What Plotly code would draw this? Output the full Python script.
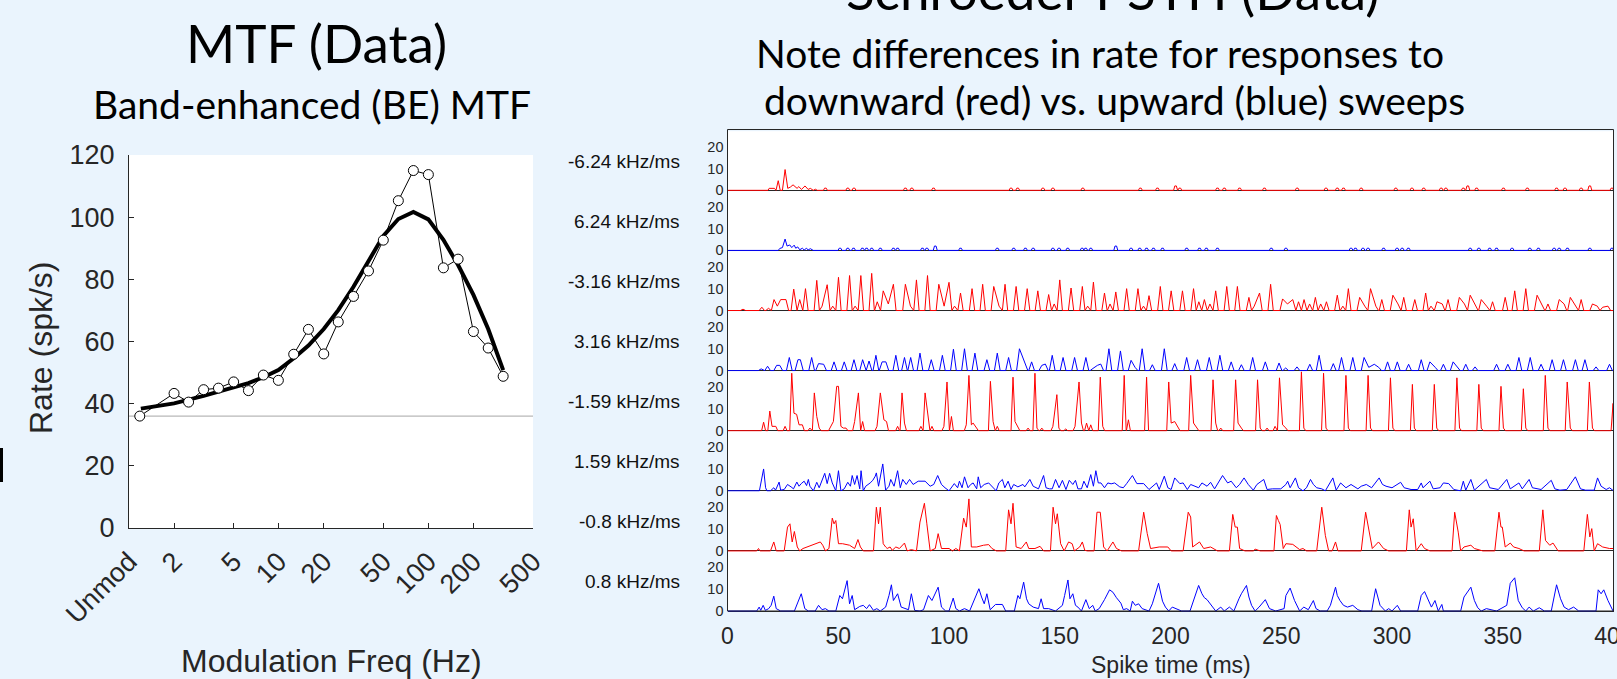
import plotly.graph_objects as go

W, H = 1617, 679
def fx(px): return px / W
def fy(py): return 1 - py / H

# ---------------- MTF data ----------------
mtf_freq_hz = [1.18, 2.0, 2.5, 3.15, 3.96, 5.0, 6.28, 7.9, 9.95, 12.6, 15.8, 20.0, 25.0, 31.6,
               39.8, 50.0, 63.0, 79.4, 100.0, 126.0, 158.0, 200.0, 251.0, 316.0]
mtf_rate = [36.0, 43.3, 40.5, 44.5, 45.0, 47.0, 44.2, 49.2, 47.5, 55.9, 63.9, 56.0, 66.3, 74.5,
            82.7, 92.6, 105.3, 115.0, 113.7, 83.7, 86.5, 63.2, 57.9, 48.8]
fit_freq_hz = [1.2, 2.0, 3.15, 5.0, 6.28, 7.9, 9.95, 12.6, 15.8, 20.0, 25.0, 31.6, 39.8, 50.0,
               63.0, 79.4, 100.0, 126.0, 158.0, 200.0, 251.0, 316.0]
fit_rate = [38.4, 40.1, 42.5, 45.3, 46.6, 48.5, 50.8, 54.6, 58.7, 64.0, 70.1, 77.6, 85.7, 94.0,
            99.4, 101.7, 99.3, 92.7, 84.6, 75.0, 64.0, 50.8]
unmod_rate = 36.0
mtf_tickvals = [1, 2, 5, 10, 20, 50, 100, 200, 500]
mtf_ticktext = ["Unmod", "2", "5", "10", "20", "50", "100", "200", "500"]
rate_ticks = [0, 20, 40, 60, 80, 100, 120]

# ---------------- PSTH data ----------------
row_labels = ["-6.24 kHz/ms", "6.24 kHz/ms", "-3.16 kHz/ms", "3.16 kHz/ms",
              "-1.59 kHz/ms", "1.59 kHz/ms", "-0.8 kHz/ms", "0.8 kHz/ms"]
row_colors = ["#ff0000", "#0000ff", "#ff0000", "#0000ff", "#ff0000", "#0000ff", "#ff0000", "#0000ff"]
time_ticks = [0, 50, 100, 150, 200, 250, 300, 350, 400]
psth_ticks = [0, 10, 20]

# row 1 (-6.24): onset response vertices + isolated single-spike bins
r1_onset = [(0, 0), (18.3, 0), (18.8, 0.9), (21.2, 0.9), (21.9, 0), (22.9, 4.4), (23.8, 0), (24.8, 0),
            (26.0, 9.5), (27.2, 0.9), (28.4, 1.5), (29.6, 2.5), (31.4, 0.9), (32.2, 1.7), (33.4, 0.4),
            (35.0, 2.0), (36.4, 0.4), (37.4, 0.9), (38.7, 0), (39.7, 0.5), (40.5, 0)]
r1_bumps = [(44.2, 1), (54.3, 1), (57.1, 1), (80.3, 1), (83.2, 1), (93.0, 1), (128.0, 1), (131.0, 1),
            (142.4, 1), (146.9, 1), (160.4, 1), (186.4, 1), (194.1, 1), (202.3, 2), (204.2, 1),
            (221.2, 1), (224.3, 1), (231.2, 1), (242.4, 1), (257.2, 1), (270.2, 1), (275.3, 1),
            (278.1, 1), (286.1, 1), (301.7, 1), (309.0, 1), (314.3, 1), (322.2, 1), (324.3, 1),
            (332.2, 1), (334.2, 2), (338.2, 1), (350.3, 1), (361.1, 1), (374.3, 1), (378.1, 1),
            (385.4, 1), (389.3, 2), (399.3, 1)]

# row 2 (6.24)
r2_onset = [(0, 0), (22.9, 0), (23.6, 0.9), (24.8, 1.3), (26.0, 5.2), (26.9, 2.0), (28.1, 2.5),
            (29.0, 1.3), (30.1, 2.4), (30.8, 1.0), (31.7, 1.6), (32.6, 0.3), (33.8, 1.0), (34.6, 0.2),
            (35.7, 1.0), (36.4, 0.2), (37.4, 0.8), (38.7, 0)]
r2_bumps = [(50.8, 1), (54.3, 1), (56.9, 1), (60.9, 1), (62.8, 1), (65.1, 1), (69.0, 1), (74.9, 1),
            (76.8, 1), (88.0, 1), (90.0, 1), (93.8, 2), (105.2, 1), (121.8, 1), (129.2, 1), (134.5, 1),
            (138.0, 1), (146.9, 1), (149.7, 1), (153.6, 1), (160.1, 1), (161.7, 1), (164.0, 1),
            (175.3, 2), (182.2, 1), (186.1, 1), (189.2, 1), (192.3, 1), (196.4, 1), (207.3, 1),
            (213.1, 1), (216.2, 1), (221.2, 1), (245.5, 1), (252.1, 1), (281.5, 1), (283.5, 1),
            (286.9, 1), (289.2, 1), (296.2, 1), (302.3, 1), (304.6, 1), (307.4, 1), (335.3, 1),
            (339.2, 1), (344.1, 1), (347.2, 1), (354.2, 1), (362.2, 1), (366.1, 1), (373.2, 1),
            (375.5, 1), (379.2, 1), (389.3, 1), (399.3, 1)]

# row 3 (-3.16): peaks (ms, spikes/s)
r3_peaks = [(7.0, 0.6), (15.5, 1.5), (18.5, 1.0), (21.0, 5.0), (22.5, 2.0), (24.0, 5.0), (26.4, 5.0),
            (29.9, 9.8), (32.6, 5.0), (35.2, 10.0), (40.3, 13.8), (42.7, 2.0), (45.0, 11.8), (47.5, 2.0),
            (50.1, 15.2), (55.1, 16.0), (57.6, 2.0), (60.2, 16.0), (65.1, 17.0), (67.6, 4.0), (70.3, 9.0),
            (72.6, 3.0), (74.9, 12.0), (80.3, 12.0), (82.6, 2.0), (85.3, 14.0), (90.3, 16.0), (95.4, 12.0),
            (97.8, 2.0), (100.0, 12.9), (102.5, 2.0), (105.2, 8.0), (110.4, 10.0), (115.2, 12.0),
            (120.2, 11.0), (122.6, 2.0), (125.3, 12.0), (130.3, 11.0), (135.3, 10.0), (140.1, 9.0),
            (145.0, 7.3), (147.5, 3.0), (150.0, 14.0), (155.1, 10.3), (160.2, 11.0), (162.6, 2.0),
            (165.2, 13.0), (170.2, 8.0), (172.7, 3.0), (175.3, 8.5), (180.2, 10.0), (185.3, 10.0),
            (187.8, 2.0), (190.3, 6.8), (195.4, 11.0), (200.3, 9.0), (205.4, 9.0), (210.4, 10.0),
            (212.8, 4.0), (215.3, 5.0), (217.8, 3.0), (220.4, 9.0), (225.4, 11.0), (230.2, 11.0),
            (235.4, 6.0), (237.8, 2.0), (240.2, 8.0), (245.2, 12.0), (250.6, 5.3), (252.8, 3.0),
            (255.2, 5.0), (257.8, 4.0), (260.3, 5.0), (262.8, 3.0), (265.4, 6.0), (267.8, 3.0),
            (270.4, 4.0), (275.3, 7.0), (277.8, 2.0), (280.3, 10.0), (285.4, 6.0), (287.7, 2.0),
            (290.3, 10.0), (292.7, 2.0), (295.4, 5.0), (300.4, 7.0), (302.7, 3.0), (305.3, 6.0),
            (310.3, 5.0), (315.2, 8.0), (317.6, 2.0), (320.3, 4.0), (322.7, 3.0), (325.3, 5.0),
            (330.4, 6.0), (332.7, 3.0), (335.3, 7.0), (337.7, 2.0), (340.3, 5.0), (342.7, 2.0),
            (345.4, 4.0), (351.1, 6.0), (355.4, 9.0), (360.4, 10.0), (365.5, 7.0), (367.8, 2.0),
            (370.4, 3.0), (375.5, 5.0), (377.7, 3.0), (380.5, 6.0), (382.8, 2.0), (385.4, 5.0),
            (390.5, 3.0), (392.7, 2.0), (395.1, 1.5), (397.5, 2.0)]

# row 4 (3.16)
r4_peaks = [(15.2, 0.8), (18.1, 2.0), (22.2, 2.4), (23.6, 2.4), (27.9, 6.0), (31.8, 5.0), (32.9, 5.0),
            (38.0, 6.0), (41.1, 3.2), (43.4, 2.9), (48.1, 4.0), (52.7, 4.0), (57.1, 5.0), (61.0, 5.0),
            (63.9, 4.4), (67.0, 7.0), (69.8, 4.0), (71.5, 4.0), (76.0, 7.0), (79.9, 6.0), (82.7, 6.0),
            (86.9, 8.0), (92.0, 5.0), (97.0, 7.0), (102.0, 9.8), (107.0, 10.0), (111.7, 8.0),
            (117.1, 5.0), (121.8, 8.0), (126.9, 6.0), (131.8, 10.0), (134.3, 3.0), (137.3, 4.0),
            (141.9, 2.4), (143.5, 3.0), (146.6, 7.0), (151.5, 6.0), (156.7, 6.0), (161.8, 6.0),
            (165.0, 1.0), (167.0, 2.4), (168.5, 3.0), (172.2, 10.0), (177.4, 9.0), (182.2, 4.7),
            (184.0, 1.5), (187.2, 10.0), (191.8, 2.7), (197.2, 10.0), (201.9, 3.2), (207.3, 6.0),
            (212.2, 5.0), (217.5, 6.0), (222.3, 7.0), (227.4, 4.0), (232.0, 2.7), (237.1, 6.0),
            (242.8, 4.0), (249.0, 3.5), (252.0, 1.2), (257.1, 1.7), (262.9, 2.9), (267.1, 7.0),
            (273.5, 3.2), (277.2, 6.0), (282.3, 6.0), (287.4, 6.0), (289.5, 1.5), (292.0, 2.9),
            (294.0, 1.5), (298.0, 4.0), (302.4, 4.0), (307.5, 2.9), (313.2, 5.0), (317.1, 4.0),
            (319.5, 1.5), (323.2, 2.9), (327.6, 4.0), (329.5, 1.5), (333.3, 2.9), (337.5, 1.7),
            (347.2, 2.9), (352.3, 2.9), (357.3, 6.0), (362.4, 6.0), (367.3, 2.9), (372.3, 5.0),
            (377.4, 5.0), (382.8, 5.0), (387.1, 5.0), (392.1, 1.7), (398.2, 2.9)]

# row 5 (-1.59)
r5_peaks = [(16.3, 3.9), (19.1, 9.0), (20.1, 2.0), (21.8, 2.0), (26.0, 2.0), (29.0, 26.3), (30.0, 8.0),
            (31.2, 7.5), (32.3, 2.7), (33.8, 2.7), (37.2, 1.2), (39.2, 17.3), (40.3, 6.5), (41.4, 1.2),
            (46.5, 2.0), (47.8, 4.2), (49.3, 20.3), (50.1, 20.3), (51.2, 2.0), (52.3, 1.2), (53.5, 1.2),
            (57.4, 4.2), (59.1, 17.3), (61.0, 4.2), (67.5, 2.0), (69.0, 17.3), (70.6, 5.0), (71.8, 4.2),
            (76.8, 2.0), (78.8, 17.3), (79.9, 3.5), (87.3, 2.0), (89.2, 17.3), (90.4, 6.5), (92.3, 2.0),
            (97.7, 2.0), (99.1, 22.3), (101.1, 6.5), (107.8, 2.7), (109.0, 25.3), (110.1, 2.7),
            (110.9, 3.5), (112.4, 1.2), (118.7, 22.6), (119.9, 4.2), (121.8, 2.0), (128.9, 24.5),
            (129.8, 4.2), (131.1, 2.0), (135.7, 1.2), (138.8, 26.3), (139.7, 1.2), (141.9, 1.2),
            (146.9, 2.0), (148.7, 16.5), (149.6, 1.2), (152.7, 0.8), (156.9, 2.0), (158.7, 22.3),
            (159.8, 3.5), (162.1, 3.5), (164.0, 2.7), (168.3, 24.5), (169.4, 2.0), (179.1, 25.3),
            (181.0, 5.0), (189.2, 24.5), (199.2, 22.3), (200.3, 3.5), (201.9, 4.2), (203.4, 1.2),
            (209.1, 25.3), (210.4, 3.5), (211.9, 1.2), (219.2, 23.3), (220.4, 3.5), (222.7, 1.2),
            (229.4, 23.3), (230.5, 3.5), (232.0, 1.2), (239.3, 23.3), (240.5, 1.2), (243.6, 1.2),
            (247.2, 2.0), (249.2, 24.2), (250.6, 2.7), (252.1, 1.2), (259.1, 27.0), (260.2, 1.2),
            (269.1, 26.3), (270.2, 1.2), (279.2, 25.3), (280.3, 1.2), (289.2, 25.3), (290.3, 1.2),
            (299.3, 24.2), (300.4, 1.2), (309.2, 21.2), (310.1, 1.2), (319.1, 21.2), (320.2, 1.2),
            (329.3, 24.2), (330.5, 1.2), (339.2, 21.2), (340.3, 1.2), (349.2, 20.3), (350.3, 1.2),
            (359.3, 19.2), (360.4, 1.2), (369.2, 25.3), (370.4, 1.2), (379.1, 22.3), (380.5, 1.2),
            (389.1, 22.3), (390.5, 1.2), (399.8, 12.5)]

# row 6 (1.59): full vertex list
r6_pts = [(0, 0), (14.4, 0), (16.3, 10), (17.2, 1.4), (17.8, 0), (19.4, 0), (20.9, 1.4), (21.7, 0.3),
          (23.3, 4), (24.0, 0.3), (25.6, 0.6), (27.1, 2.9), (28.7, 1.8), (29.8, 0.9), (31.3, 4),
          (32.3, 2.1), (33.3, 3.3), (34.6, 4.4), (35.7, 2.4), (36.5, 5.2), (37.2, 2.1), (38.8, 0),
          (39.9, 2.9), (40.3, 3.9), (41.4, 1.4), (42.7, 4.4), (43.9, 8), (45.0, 3.3), (46.1, 8),
          (47.3, 3.6), (48.9, 0), (50.1, 9.2), (51.2, 0), (52.7, 0.9), (54.3, 3.9), (55.5, 2.1),
          (56.3, 7), (57.4, 2.9), (58.5, 7), (59.7, 0.9), (60.3, 9.2), (61.3, 0), (62.4, 2.1),
          (64.4, 3.6), (65.6, 4.8), (66.7, 6.7), (67.2, 8.2), (68.2, 2.1), (70.1, 12.3), (71.4, 0.3),
          (72.9, 2.1), (73.7, 5.2), (75.2, 2.1), (76.8, 9.2), (78.0, 1.4), (79.1, 5.2), (80.7, 2.9),
          (82.2, 5.2), (83.8, 2.9), (86.1, 4.4), (89.2, 4.4), (91.5, 2.1), (93.1, 2.9), (94.9, 7),
          (96.6, 2.9), (98.2, 1.4), (100.0, 0), (102.4, 3.3), (103.9, 1.4), (104.7, 4.4), (105.9, 1.4),
          (107.0, 6.4), (108.6, 1.4), (109.8, 2.9), (110.9, 3.6), (112.5, 0.9), (113.2, 6.4),
          (114.3, 1.4), (115.9, 2.9), (117.9, 3.6), (119.9, 1.4), (121.3, 0), (122.5, 3.6), (124.1, 5.2),
          (125.2, 1.4), (126.7, 4.4), (128.0, 0.6), (129.2, 2.9), (131.1, 1.8), (133.4, 2.9),
          (134.2, 1.8), (136.5, 5.2), (138.0, 2.1), (140.4, 0.9), (142.7, 7), (143.8, 1.4), (145.3, 0.9),
          (146.6, 0.9), (148.1, 5.2), (149.7, 1.4), (151.2, 4.8), (152.8, 0.6), (154.3, 4.8),
          (155.9, 2.9), (157.1, 4.8), (158.2, 0.9), (159.8, 0.9), (160.9, 4.4), (162.4, 1.4), (164.0, 7.4),
          (165.2, 2.1), (166.3, 9.2), (167.4, 3.6), (168.6, 3.6), (170.2, 1.4), (171.7, 3.6), (173.2, 3.2),
          (174.8, 3.6), (177.1, 1.8), (178.7, 1.4), (180.2, 3.3), (182.8, 7), (184.8, 3.3), (187.9, 3.3),
          (190.3, 0.6), (192.1, 2.1), (193.7, 3.6), (194.9, 0.6), (197.2, 6.7), (198.8, 1.4),
          (200.3, 0.6), (201.9, 5.9), (204.2, 3.3), (205.7, 3.6), (207.6, 0.6), (209.1, 2.9),
          (212.7, 1.4), (214.2, 3.6), (216.5, 2.1), (218.1, 3.9), (219.9, 0.9), (223.5, 7), (225.8, 3.6),
          (227.4, 4.4), (229.7, 1.4), (231.2, 2.9), (233.2, 5.9), (235.1, 2.9), (237.4, 0.3), (239.0, 2.9),
          (242.1, 5.2), (243.6, 0.6), (246.0, 0.9), (249.8, 0.9), (252.1, 2.9), (252.9, 4.4), (254.0, 1.4),
          (256.4, 5.9), (257.8, 1.4), (259.8, 0), (261.4, 1.4), (263.2, 5.2), (264.5, 2.9), (266.0, 1.4),
          (268.3, 0.9), (269.9, 0), (273.3, 5.9), (274.8, 0.3), (276.8, 3.6), (279.2, 1.4), (281.5, 2.9),
          (284.6, 0.9), (286.1, 2.1), (288.4, 2.9), (290.8, 1.4), (294.2, 5.9), (295.7, 2.9), (297.3, 2.1),
          (300.0, 1.4), (303.9, 3.9), (305.5, 1.4), (308.6, 0.6), (311.6, 0.6), (313.2, 3.6), (314.0, 1.4),
          (317.1, 4.4), (318.6, 0.9), (321.7, 1.4), (323.2, 3.6), (325.6, 3.3), (327.9, 0.6), (331.0, 0),
          (332.2, 4.4), (333.3, 0.3), (335.6, 5.2), (337.2, 0.3), (342.6, 5.2), (344.1, 1.4), (348.0, 0.6),
          (351.8, 5.2), (353.4, 0.9), (357.3, 3.6), (358.8, 0.9), (361.9, 5.2), (363.4, 1.4), (367.3, 0.6),
          (371.9, 4.8), (373.5, 0.9), (375.8, 0.3), (378.9, 0.6), (382.8, 6.4), (385.1, 0.9), (387.4, 0.3),
          (391.3, 0.3), (392.8, 5.9), (394.4, 2.1), (396.7, 0.6), (398.2, 1.4), (399.8, 0), (400.0, 0)]

# row 7 (-0.8): full vertex list
r7_pts = [(0, 0), (13.2, 0), (14.0, 1.1), (14.7, 0), (19.4, 0), (20.9, 4.1), (22.0, 0), (25.6, 0),
          (27.1, 10.9), (28.2, 12.4), (29.2, 4.1), (30.2, 8.9), (31.5, 1.8), (32.6, 0), (34.1, 1.1),
          (39.6, 3.3), (41.9, 4.1), (43.0, 2.6), (44.2, 0), (45.8, 1.1), (47.3, 15), (48.1, 12.4),
          (48.9, 13.9), (50.1, 3.3), (51.9, 3.3), (55.1, 2.6), (57.4, 1.1), (58.9, 5.2), (60.0, 1.8),
          (61.3, 0), (65.9, 0), (67.2, 20), (68.2, 12.4), (69.0, 20), (70.3, 3.3), (71.4, 1.8),
          (72.1, 1.1), (73.4, 1.8), (74.4, 0.3), (76.0, 1.8), (77.6, 1.1), (79.9, 3.6), (81.1, 0),
          (83.0, 0.6), (85.3, 0), (86.9, 13.2), (88.9, 21.8), (90.0, 12.4), (91.5, 0), (93.8, 1.1),
          (95.1, 7.9), (96.6, 1.1), (100.0, 1.1), (101.6, 0), (103.1, 1.1), (104.7, 0), (106.6, 15),
          (107.8, 10.9), (109.0, 23.8), (110.1, 1.8), (112.5, 1.8), (115.6, 2.6), (117.9, 2.9),
          (119.4, 1.1), (121.4, 0), (125.6, 0), (126.9, 18.8), (128.0, 12.4), (128.9, 21.8), (130.3, 1.8),
          (132.6, 1.1), (134.9, 4.1), (136.0, 1.1), (138.8, 1.1), (141.1, 2.1), (142.7, 0), (145.8, 0),
          (147.0, 20), (148.1, 12.4), (148.9, 17), (150.4, 3.3), (152.0, 0), (154.0, 4.1), (155.6, 3.3),
          (156.6, 0), (159.0, 1.8), (160.2, 4.1), (161.3, 0.3), (162.4, 0), (165.5, 0), (166.8, 17.7),
          (168.3, 17.7), (169.8, 1.8), (171.4, 0), (174.0, 4.1), (175.6, 1.1), (177.9, 0), (185.6, 0),
          (187.9, 17.7), (189.5, 7.9), (191.0, 1.1), (194.9, 1.8), (198.8, 1.8), (200.3, 0), (205.7, 0),
          (208.0, 17.7), (209.1, 15.5), (210.0, 1.8), (213.1, 4.1), (215.0, 1.1), (218.1, 1.8),
          (221.2, 0), (226.6, 0), (228.1, 16.7), (229.2, 10.9), (230.2, 10.9), (231.2, 1.1), (233.6, 0),
          (237.4, 0), (238.2, 0.8), (240.5, 0), (246.7, 0), (247.8, 16.2), (248.7, 13.9), (249.5, 12.1),
          (250.9, 1.1), (252.1, 3.3), (255.2, 3.0), (258.3, 0.6), (259.8, 1.1), (261.4, 0), (266.0, 0),
          (268.3, 20), (269.9, 7.1), (271.4, 0), (273.0, 0), (274.5, 4.1), (275.6, 0), (286.1, 0),
          (288.1, 17.7), (289.7, 8.6), (291.1, 1.1), (293.9, 4.1), (296.2, 1.1), (298.5, 0), (306.5, 0),
          (307.8, 18.8), (308.6, 10.9), (309.6, 14.7), (310.9, 0), (313.2, 3.3), (314.7, 1.1), (317.1, 0),
          (327.1, 0), (328.3, 17.7), (329.9, 8.6), (331.0, 0), (332.5, 1.8), (335.6, 2.6), (337.2, 1.1),
          (341.0, 0), (346.4, 0), (348.3, 17.7), (349.2, 10.9), (349.8, 10.9), (351.1, 1.8), (353.4, 3.6),
          (354.9, 1.8), (357.3, 1.1), (359.6, 0), (366.5, 0), (368.1, 18.8), (369.3, 4.8), (371.2, 2.6),
          (372.7, 3.6), (375.0, 0), (386.6, 0), (388.2, 16.7), (389.3, 6.4), (390.2, 10.2), (391.3, 0),
          (392.8, 3.3), (395.1, 1.8), (398.2, 1.1), (400.0, 1.1)]

# row 8 (0.8): full vertex list
r8_pts = [(0, 0), (13.2, 0), (14.3, 1.8), (15.0, 0.3), (16.1, 2.6), (17.1, 0.3), (18.6, 1.1), (19.7, 2.6),
          (20.9, 6.8), (22.0, 1.1), (24.0, 0), (30.2, 0), (31.8, 4.1), (33.3, 7.9), (34.9, 1.1), (36.5, 0),
          (39.6, 0), (41.1, 2.6), (42.7, 0.6), (44.2, 1.1), (45.8, 0), (48.9, 0), (50.7, 7.1), (51.9, 5.6),
          (54.0, 13.9), (55.1, 3.3), (56.3, 7.1), (57.4, 0.6), (59.7, 2.1), (61.3, 2.6), (62.8, 1.1),
          (64.1, 2.9), (65.9, 0.3), (67.4, 1.1), (69.0, 0), (71.4, 1.8), (72.9, 7.1), (74.0, 12),
          (74.9, 4.8), (76.8, 7.9), (78.4, 1.8), (79.9, 1.1), (81.7, 0.6), (83.0, 7.9), (84.5, 0.3),
          (86.9, 0), (88.5, 0.6), (90.7, 7.1), (92.3, 4.8), (95.1, 10.9), (96.6, 1.8), (98.5, 0),
          (100.0, 0), (101.9, 5.9), (103.1, 1.1), (104.7, 0), (107.0, 1.1), (109.3, 0), (111.7, 5.6),
          (113.5, 10.2), (114.7, 6.4), (115.9, 3.3), (117.1, 7.9), (118.6, 0.6), (121.0, 3.0), (124.1, 3.0),
          (125.6, 0), (129.5, 0), (131.1, 7.1), (132.0, 5.6), (133.7, 13.2), (135.0, 5.6), (136.0, 3.3),
          (138.0, 1.8), (140.4, 1.1), (141.6, 5.6), (142.7, 1.1), (145.0, 1.1), (148.1, 0), (151.2, 2.6),
          (152.2, 7.1), (153.7, 14.2), (154.6, 5.6), (155.9, 7.9), (157.1, 2.6), (158.2, 1.8), (159.8, 0),
          (161.8, 5.2), (163.3, 1.1), (164.9, 2.6), (166.0, 0), (167.8, 1.1), (170.2, 5.2), (172.5, 9.7),
          (174.0, 8.6), (175.6, 6.1), (177.6, 3.6), (178.7, 0.6), (180.2, 1.1), (181.8, 0), (182.8, 4.5),
          (184.1, 2.6), (185.6, 3.3), (187.2, 1.1), (190.3, 0), (191.8, 3.3), (194.6, 12.7), (196.4, 4.5),
          (197.7, 1.8), (199.2, 0), (200.8, 1.8), (202.6, 1.1), (205.0, 0), (208.8, 0), (212.7, 11.7),
          (214.2, 7.9), (215.3, 6.1), (216.5, 5.2), (218.9, 1.8), (220.4, 0), (222.7, 1.8), (224.3, 0),
          (226.6, 1.8), (228.6, 0), (230.9, 5.6), (232.0, 7.9), (234.3, 11.7), (235.4, 6.4), (236.6, 2.6),
          (238.2, 0), (240.0, 1.8), (242.8, 5.2), (244.7, 1.1), (247.5, 0), (251.3, 1.1), (252.1, 7.1),
          (254.0, 10.5), (256.0, 4.8), (258.3, 0), (260.2, 1.8), (262.2, 0.6), (264.5, 4.8), (265.7, 1.1),
          (267.6, 0), (270.7, 0), (272.2, 2.6), (274.5, 10.9), (275.3, 7.1), (276.5, 4.8), (278.1, 2.6),
          (279.9, 1.8), (282.3, 2.6), (284.6, 0.6), (286.4, 0), (290.8, 0), (292.6, 10.2), (294.6, 2.6),
          (297.0, 0), (298.5, 1.1), (300.0, 0), (302.4, 2.6), (303.9, 0), (311.6, 0), (313.2, 7.1),
          (314.7, 8.9), (316.3, 5.6), (317.8, 1.8), (319.4, 4.8), (320.9, 0), (322.5, 3.0), (323.2, 0),
          (331.0, 0), (332.5, 6.4), (335.6, 10.9), (337.2, 4.8), (338.7, 1.5), (340.3, 0), (342.6, 1.1),
          (344.9, 0.6), (347.2, 0), (351.8, 2.6), (353.4, 12.7), (355.4, 15.2), (357.0, 4.8), (358.8, 1.5),
          (360.4, 0), (361.9, 1.8), (363.8, 0), (366.5, 1.5), (368.8, 0), (371.9, 0), (374.3, 12),
          (376.1, 5.6), (377.7, 1.8), (379.7, 0.6), (382.0, 1.8), (384.3, 0), (392.1, 0), (393.1, 9.7),
          (394.4, 7.9), (395.6, 9.7), (397.5, 4.8), (399.8, 0), (400.0, 0)]


# ---------------- helpers: turn read values into line vertices ----------------
def spike_path(peaks, half, t_end=400.0):
    xs, ys = [0.0], [0.0]
    n = len(peaks)
    for i, (t, v) in enumerate(peaks):
        prev_t = peaks[i - 1][0] if i > 0 else -1e9
        if t - prev_t > 2 * half:
            xs.append(max(t - half, 0.0)); ys.append(0.0)
        xs.append(t); ys.append(v)
        next_t = peaks[i + 1][0] if i < n - 1 else 1e9
        if next_t - t > 2 * half:
            xs.append(min(t + half, t_end)); ys.append(0.0)
    if xs[-1] < t_end:
        xs.append(t_end); ys.append(0.0)
    return xs, ys


def onset_plus_bumps(onset, bumps, half, t_end=400.0):
    xs = [p[0] for p in onset]
    ys = [p[1] for p in onset]
    for t, v in bumps:
        xs += [t - half, t - 0.4 * half, t + 0.4 * half, min(t + half, t_end)]
        ys += [0.0, v, v, 0.0]
    if xs[-1] < t_end:
        xs.append(t_end); ys.append(0.0)
    return xs, ys


def split(pts):
    return [p[0] for p in pts], [p[1] for p in pts]


rows = [
    onset_plus_bumps(r1_onset, r1_bumps, 0.9),
    onset_plus_bumps(r2_onset, r2_bumps, 0.9),
    spike_path(r3_peaks, 1.2),
    spike_path(r4_peaks, 1.3),
    spike_path(r5_peaks, 0.9),
    split(r6_pts),
    split(r7_pts),
    split(r8_pts),
]

AX = "#262626"
MFONT = "Liberation Sans, Arial, sans-serif"
SFONT = "Lato, Open Sans, sans-serif"

fig = go.Figure()

# MTF traces
fig.add_trace(go.Scatter(x=[1, 500], y=[unmod_rate, unmod_rate], mode="lines",
                         line=dict(color="#a6a6a6", width=1), xaxis="x", yaxis="y",
                         showlegend=False, hoverinfo="skip"))
fig.add_trace(go.Scatter(x=fit_freq_hz, y=fit_rate, mode="lines",
                         line=dict(color="black", width=4), xaxis="x", yaxis="y", showlegend=False))
fig.add_trace(go.Scatter(x=mtf_freq_hz, y=mtf_rate, mode="lines+markers",
                         line=dict(color="black", width=1),
                         marker=dict(size=10, color="white", line=dict(color="black", width=1)),
                         xaxis="x", yaxis="y", showlegend=False))

layout = dict(
    width=W, height=H,
    margin=dict(l=0, r=0, t=0, b=0, pad=0, autoexpand=False),
    paper_bgcolor="#EAF4FD",
    plot_bgcolor="white",
    showlegend=False,
    xaxis=dict(type="log", range=[0, 2.69897], domain=[fx(129), fx(533)], anchor="y",
               tickvals=mtf_tickvals, ticktext=mtf_ticktext, tickangle=-45, automargin=False,
               ticks="inside", ticklen=5, tickcolor=AX, showline=True, linecolor=AX, linewidth=1,
               showgrid=False, zeroline=False, ticklabelstandoff=6, ticklabeloverflow="allow",
               tickfont=dict(family=MFONT, size=27, color=AX)),
    yaxis=dict(range=[0, 120], domain=[fy(528), fy(155)], anchor="x", automargin=False,
               tickvals=rate_ticks, ticks="inside", ticklen=5, tickcolor=AX,
               showline=True, linecolor=AX, linewidth=1, showgrid=False, zeroline=False,
               ticklabelstandoff=8, ticklabeloverflow="allow",
               tickfont=dict(family=MFONT, size=27, color=AX)),
)

PANEL_H = 60.1
for i in range(8):
    n = i + 2
    base = 611.0 - (7 - i) * PANEL_H
    bottom = base + 1.0
    top = bottom - PANEL_H
    xs, ys = rows[i]
    fig.add_trace(go.Scatter(x=xs, y=ys, mode="lines", line=dict(color=row_colors[i], width=1),
                             xaxis=f"x{n}", yaxis=f"y{n}", showlegend=False))
    layout[f"xaxis{n}"] = dict(domain=[fx(727.5), fx(1613.5)], range=[0, 400], anchor=f"y{n}",
                               showline=False, showgrid=False, zeroline=False, automargin=False,
                               showticklabels=(i == 7), tickvals=time_ticks, ticks="",
                               ticklabelstandoff=8, ticklabeloverflow="allow",
                               tickfont=dict(family=MFONT, size=23, color=AX))
    layout[f"yaxis{n}"] = dict(domain=[fy(bottom), fy(top)], range=[-0.45, 27.05], anchor=f"x{n}",
                               showline=False, showgrid=False, zeroline=True, zerolinecolor=AX,
                               zerolinewidth=1, tickvals=psth_ticks, ticks="", automargin=False,
                               ticklabelstandoff=3, ticklabeloverflow="allow",
                               tickfont=dict(family=MFONT, size=14.5, color=AX))

ann = []
def add_text(text, x, y, size, family, color="black", xanchor="center", angle=0):
    ann.append(dict(text=text, x=fx(x), y=fy(y), xref="paper", yref="paper", showarrow=False,
                    xanchor=xanchor, yanchor="middle", textangle=angle,
                    font=dict(family=family, size=size, color=color)))

add_text("MTF (Data)", 316, 42, 53, SFONT)
add_text("Band-enhanced (BE) MTF", 312, 104, 39, SFONT)
add_text("Schroeder PSTH (Data)", 1112, -11, 53, SFONT)
add_text("Note differences in rate for responses to", 754, 53, 39, SFONT, xanchor="left")
add_text("downward (red) vs. upward (blue) sweeps", 762, 100, 39, SFONT, xanchor="left")
add_text("Modulation Freq (Hz)", 331, 661, 32, MFONT, color=AX)
add_text("Rate (spk/s)", 41, 348, 32, MFONT, color=AX, angle=-90)
add_text("Spike time (ms)", 1170.5, 665, 23, MFONT, color=AX)
for i, lab in enumerate(row_labels):
    base = 611.0 - (7 - i) * PANEL_H
    add_text(lab, 681.5, base - PANEL_H / 2 + 1, 19, MFONT, color="#111111", xanchor="right")

layout["annotations"] = ann
layout["shapes"] = [
    dict(type="rect", xref="paper", yref="paper", x0=fx(727.5), x1=fx(1613.5), y0=fy(611.0), y1=fy(129.5),
         line=dict(color=AX, width=1), fillcolor="rgba(0,0,0,0)", layer="above"),
    dict(type="rect", xref="paper", yref="paper", x0=0, x1=fx(3), y0=fy(482), y1=fy(448),
         line=dict(width=0), fillcolor="black"),
]

fig.update_layout(**layout)
fig.write_html("out.html")
